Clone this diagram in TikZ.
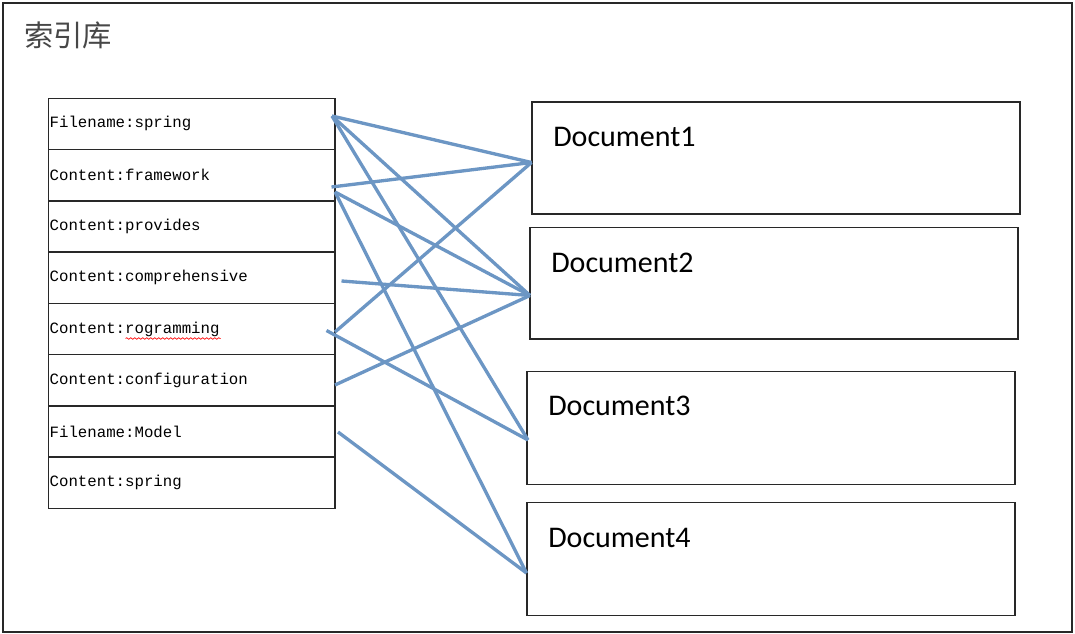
\documentclass[tikz,border=0pt]{standalone}
\usepackage{fontspec}
\setmainfont{Carlito}
\newfontfamily\cjkfont{Noto Sans CJK SC}
\newfontfamily\fieldfont{Liberation Mono}
\usetikzlibrary{positioning,decorations.pathmorphing}

\definecolor{linkblue}{RGB}{108,150,196}
\definecolor{boxgray}{RGB}{40,40,40}

\tikzset{
  field/.style={draw=boxgray, line width=1.05pt, outer sep=0pt, inner xsep=1pt,
    minimum width=215pt, minimum height=38.44pt, text width=213pt, align=left,
    font=\fieldfont\fontsize{11.8}{13}\selectfont},
  docbox/.style={draw=boxgray, line width=1.05pt, outer sep=0pt, anchor=north west,
    minimum width=366pt},
  doclabel/.style={anchor=base west, inner sep=0pt, font=\fontsize{22.5}{26}\selectfont},
  link/.style={draw=linkblue, line width=2.5pt},
}

\begin{document}
\begin{tikzpicture}[x=0.75pt, y=-0.75pt]

    % Picture size matches the screenshot in pixels
    \useasboundingbox (0,0) rectangle (1075,634);

    % Outer frame and title
    \draw[line width=1.4pt, boxgray] (3,3) rectangle (1072,632);
    \node[anchor=west, inner sep=0pt, text=black!72, font=\cjkfont\fontsize{22}{24}\selectfont] (title) at (24,35) {索引库};

    % Index table, one row per term
    \node[field, anchor=north west] (r1) at (48.3,98.3) {Filename:spring};
    \node[field, below=0pt of r1] (r2) {Content:framework};
    \node[field, below=0pt of r2] (r3) {Content:provides};
    \node[field, below=0pt of r3] (r4) {Content:comprehensive};
    \node[field, below=0pt of r4] (r5) {Content:rogramming};
    \node[field, below=0pt of r5] (r6) {Content:configuration};
    \node[field, below=0pt of r6] (r7) {Filename:Model};
    \node[field, below=0pt of r7] (r8) {Content:spring};

    % Spell-check underline under "rogramming"
    \draw[red, line width=0.5pt, decorate, decoration={snake, amplitude=0.6pt, segment length=3pt}] (125.5,338.5) -- (220.5,338.5);

    % Document boxes
    \node[docbox, minimum height=84pt] (doc1) at (532,102) {};
    \node[docbox, minimum height=83.6pt] (doc2) at (530,227.5) {};
    \node[docbox, minimum height=84.6pt] (doc3) at (527,371.5) {};
    \node[docbox, minimum height=84.6pt] (doc4) at (527,502.5) {};

    \node[doclabel] (doc1label) at ([shift={(21,45)}]doc1.north west) {Document1};
    \node[doclabel] (doc2label) at ([shift={(21,45)}]doc2.north west) {Document2};
    \node[doclabel] (doc3label) at ([shift={(21,44.5)}]doc3.north west) {Document3};
    \node[doclabel] (doc4label) at ([shift={(21,44.5)}]doc4.north west) {Document4};

    % Ends of the links, where they appear in the image
    \coordinate (spring) at (332,116);
    \coordinate (frameA) at (331.5,187);
    \coordinate (frameB) at (335,192);
    \coordinate (compr) at (341.5,281);
    \coordinate (progA) at (335,332);
    \coordinate (progB) at (326.5,330.5);
    \coordinate (config) at (335,385);
    \coordinate (model) at (338,432);

    \coordinate (in1) at (531.5,162.5);
    \coordinate (in2) at (530,295.5);
    \coordinate (in3) at (528,440);
    \coordinate (in4) at (526.5,573);

    % Links from terms to documents
    \draw[link] (spring) -- (in1);
    \draw[link] (spring) -- (in2);
    \draw[link] (spring) -- (in3);
    \draw[link] (frameA) -- (in1);
    \draw[link] (frameB) -- (in2);
    \draw[link] (frameB) -- (in4);
    \draw[link] (compr) -- (in2);
    \draw[link] (progA) -- (in1);
    \draw[link] (progB) -- (in3);
    \draw[link] (config) -- (in2);
    \draw[link] (model) -- (in4);

\end{tikzpicture}
\end{document}
